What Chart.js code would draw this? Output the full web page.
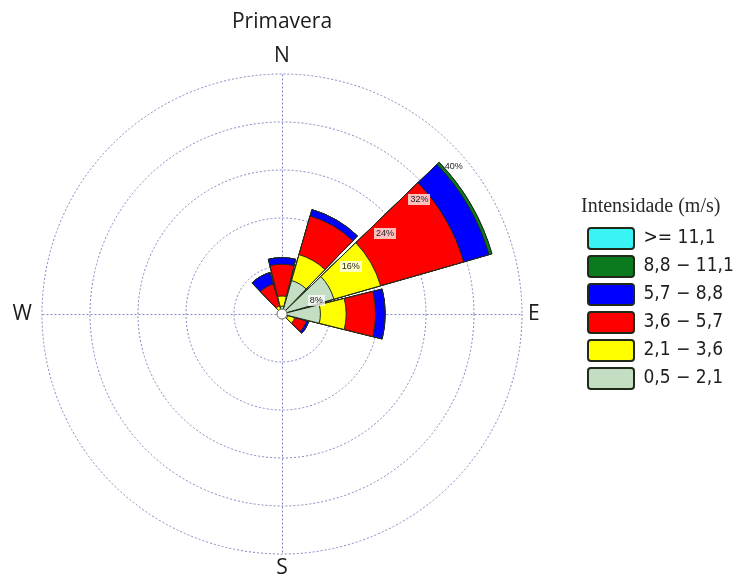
<!DOCTYPE html>
<html>
<head>
<meta charset="utf-8">
<title>Primavera – rosa dos ventos</title>
<script src="https://cdn.jsdelivr.net/npm/chart.js@4.4.1/dist/chart.umd.min.js"></script>
<style>
  html, body { margin: 0; padding: 0; background: #ffffff; }
  #wrap { width: 744px; height: 588px; position: relative; }
</style>
</head>
<body>
<div id="wrap"><canvas id="rose" width="744" height="588"></canvas></div>
<script>
// ---- data -------------------------------------------------------------
const chartTitle = 'Primavera';
const legendTitle = 'Intensidade (m/s)';
// sector centres, clockwise from north (degrees)
const directions = ['0°', '30°', '60°', '90°', '120°', '150°', '180°', '210°', '240°', '270°', '300°', '330°'];
// wind-speed classes, lowest first
const speedClasses = ['0,5 − 2,1', '2,1 − 3,6', '3,6 − 5,7', '5,7 − 8,8', '8,8 − 11,1', '>= 11,1'];
// frequency (%) of each class per direction
const class05to21  = [1.3, 5.8, 9.0, 6.4, 1.0, 0, 0, 0, 0, 0, 0, 0.8];
const class21to36  = [1.7, 4.5, 8.1, 4.3, 1.2, 0, 0, 0, 0, 0, 0, 0.6];
const class36to57  = [5.3, 6.7, 14.4, 4.9, 2.0, 0, 0, 0, 0, 0, 0, 3.8];
const class57to88  = [1.1, 1.1, 4.4, 1.6, 0.4, 0, 0, 0, 0, 0, 0, 2.0];
const class88to111 = [0, 0, 0.5, 0, 0, 0, 0, 0, 0, 0, 0, 0];
const class111up   = [0, 0, 0, 0, 0, 0, 0, 0, 0, 0, 0, 0];
// rings of the radial axis (%)
const ringTicks = [8, 16, 24, 32, 40];
const compassLabels = ['N', 'E', 'S', 'W'];

// ---- styling ----------------------------------------------------------
const classColors = ['#c3dec3', '#ffff00', '#ff0000', '#0000ff', '#0b7a1e', '#38f4f4'];
const outline = '#1f2a18';
const gridColor = '#7f86bf';
const SECTOR_DEG = 28;   // width of a direction sector
const GAP_DEG = 2;       // empty wedge between neighbouring sectors
const LEGEND_WIDTH = 180;
const LEGEND_SHIFT = 17; // legend column sits a little right of the plot area

const classSeries = [class05to21, class21to36, class36to57, class57to88, class88to111, class111up];

// every direction is followed by an empty gap wedge
const labels = [];
directions.forEach(d => labels.push(d, ''));

// stacked rose: each class is drawn as the running total, smallest on top
let running = directions.map(() => 0);
const datasets = classSeries.map((series, k) => {
  running = running.map((v, i) => v + series[i]);
  const data = [];
  running.forEach(v => data.push(Math.round(v * 100) / 100, 0));
  return {
    label: speedClasses[k],
    data,
    backgroundColor: c => (c.dataIndex % 2 ? 'rgba(0,0,0,0)' : classColors[k]),
    borderColor: outline,
    borderWidth: c => (c.dataIndex % 2 ? 0 : 1),
    angle: c => (c.dataIndex % 2 ? GAP_DEG : SECTOR_DEG)
  };
});

// fixed-width legend column, nudged right after layout
const legendPlacement = {
  id: 'legendPlacement',
  beforeLayout(chart) {
    const lg = chart.legend;
    if (lg && !lg.__widthLocked) {
      const fit = lg.fit;
      lg.fit = function () { fit.call(this); this.width = LEGEND_WIDTH; };
      lg.__widthLocked = true;
    }
  },
  afterLayout(chart) {
    const lg = chart.legend;
    if (lg) { lg.left += LEGEND_SHIFT; lg.right += LEGEND_SHIFT; }
  }
};

// compass cross, calm circle, ring percentages, title and N/E/S/W
const roseDecor = {
  id: 'roseDecor',
  beforeDatasetsDraw(chart) {
    const s = chart.scales.r, ctx = chart.ctx;
    const R = s.getDistanceFromCenterForValue(s.max);
    const cx = s.xCenter + 0.5, cy = s.yCenter + 0.5;
    ctx.save();
    ctx.strokeStyle = gridColor;
    ctx.lineWidth = 1;
    ctx.setLineDash([2, 2]);
    ctx.beginPath();
    ctx.moveTo(cx, cy - R); ctx.lineTo(cx, cy + R);
    ctx.moveTo(cx - R, cy); ctx.lineTo(cx + R, cy);
    ctx.stroke();
    ctx.restore();
  },
  afterDatasetsDraw(chart) {
    const s = chart.scales.r, ctx = chart.ctx;
    const cx = s.xCenter, cy = s.yCenter;
    ctx.save();
    // calm circle
    ctx.beginPath();
    ctx.arc(cx, cy, 5, 0, Math.PI * 2);
    ctx.fillStyle = '#ffffff';
    ctx.fill();
    ctx.lineWidth = 1;
    ctx.strokeStyle = '#6a6a6a';
    ctx.stroke();
    // ring percentages along the north-east diagonal
    const bearing = 45.7 * Math.PI / 180;
    ctx.font = '9px "Liberation Sans", Arial, sans-serif';
    ctx.textAlign = 'center';
    ctx.textBaseline = 'middle';
    ringTicks.forEach((v, i) => {
      const d = s.getDistanceFromCenterForValue(v);
      const x = cx + d * Math.sin(bearing);
      const y = cy - d * Math.cos(bearing) + 20;
      const txt = v + '%';
      const w = ctx.measureText(txt).width;
      if (i < ringTicks.length - 1) {
        ctx.fillStyle = 'rgba(255,255,255,0.75)';
        ctx.fillRect(Math.round(x - w / 2 - 2), Math.round(y - 5.5), Math.round(w + 4), 11);
      }
      ctx.fillStyle = '#222222';
      ctx.fillText(txt, x, y);
    });
    ctx.restore();
  },
  afterDraw(chart) {
    const s = chart.scales.r, ctx = chart.ctx;
    const cx = s.xCenter, cy = s.yCenter;
    const R = s.getDistanceFromCenterForValue(s.max);
    ctx.save();
    ctx.fillStyle = '#1c1c1c';
    ctx.font = '21px "Open Sans", "Noto Sans", sans-serif';
    ctx.textAlign = 'center';
    ctx.textBaseline = 'alphabetic';
    ctx.fillText(chartTitle, cx, 28);
    ctx.fillText(compassLabels[0], cx, cy - R - 12);
    ctx.textBaseline = 'top';
    ctx.fillText(compassLabels[2], cx, cy + R + 4);
    ctx.textBaseline = 'middle';
    ctx.textAlign = 'left';
    ctx.fillText(compassLabels[1], cx + R + 6, cy);
    ctx.textAlign = 'right';
    ctx.fillText(compassLabels[3], cx - R - 10, cy);
    ctx.restore();
  }
};

new Chart(document.getElementById('rose'), {
  type: 'polarArea',
  data: { labels, datasets },
  options: {
    responsive: false,
    animation: false,
    events: [],
    layout: { padding: { left: 0, top: 74, right: 0, bottom: 34 } },
    scales: {
      r: {
        min: 0,
        max: ringTicks[ringTicks.length - 1],
        startAngle: -SECTOR_DEG / 2,
        ticks: { display: false, stepSize: ringTicks[0] },
        grid: { color: gridColor, lineWidth: 1, circular: true },
        border: { dash: [2, 2] },
        angleLines: { display: false },
        pointLabels: { display: false }
      }
    },
    plugins: {
      tooltip: { enabled: false },
      legend: {
        position: 'right',
        align: 'start',
        onClick: null,
        title: {
          display: true,
          text: legendTitle,
          position: 'start',
          color: '#2a2a2a',
          font: { family: '"Liberation Serif", "Times New Roman", serif', size: 20 },
          padding: { top: 123, bottom: 0 }
        },
        labels: {
          boxWidth: 46,
          boxHeight: 21,
          padding: 7,
          color: '#1e1e1e',
          useBorderRadius: true,
          borderRadius: 3,
          font: { family: '"DejaVu Sans Condensed", "DejaVu Sans", sans-serif', size: 19 },
          generateLabels: chart => chart.data.datasets.map((ds, i) => ({
            text: ds.label,
            fillStyle: classColors[i],
            strokeStyle: outline,
            lineWidth: 2,
            borderRadius: 3,
            hidden: false,
            datasetIndex: i,
            fontColor: '#1e1e1e'
          })).reverse()
        }
      }
    }
  },
  plugins: [legendPlacement, roseDecor]
});
</script>
</body>
</html>
